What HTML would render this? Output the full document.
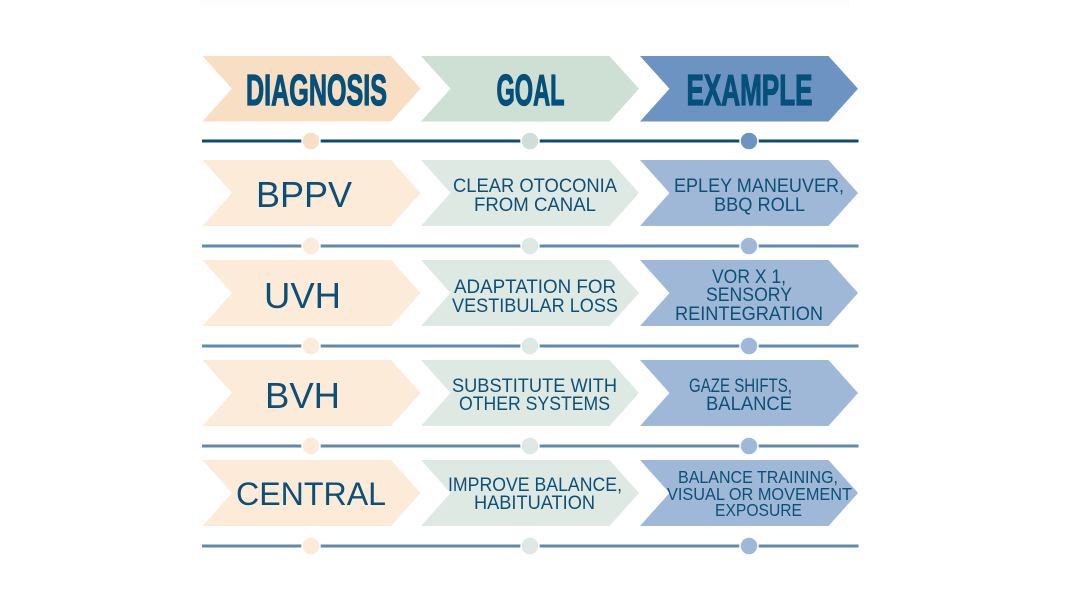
<!DOCTYPE html>
<html>
<head>
<meta charset="utf-8">
<style>
html,body{margin:0;padding:0;background:#fff;width:1070px;height:602px;overflow:hidden}
svg{display:block}
text{font-family:"Liberation Sans",sans-serif;fill:#0e4f77}
.h{font-size:44px;font-weight:bold;fill:#04507a;stroke:#04507a;stroke-width:1.3}
.b{font-size:36px}
.s{font-size:19px}
.x{font-size:17.5px}
</style>
</head>
<body>
<svg width="1070" height="602" viewBox="0 0 1070 602" xmlns="http://www.w3.org/2000/svg">
<defs>
<linearGradient id="tg" x1="0" y1="0" x2="0" y2="1"><stop offset="0" stop-color="#fbfbfb"/><stop offset="1" stop-color="#fff"/></linearGradient>
</defs>
<rect x="200" y="0" width="650" height="9" fill="url(#tg)"/>

<!-- Header chevrons -->
<polygon points="202.5,56 391,56 420.5,88.7 391,121.5 202.5,121.5 232,88.7" fill="#f8dec2"/>
<polygon points="421,56 609.5,56 639,88.7 609.5,121.5 421,121.5 450.5,88.7" fill="#cedfd3"/>
<polygon points="640,56 828.5,56 858,88.7 828.5,121.5 640,121.5 669.5,88.7" fill="#6d93c3"/>
<text class="h" x="246" y="105" textLength="141" lengthAdjust="spacingAndGlyphs">DIAGNOSIS</text>
<text class="h" x="496.5" y="105" textLength="68" lengthAdjust="spacingAndGlyphs">GOAL</text>
<text class="h" x="686.5" y="105" textLength="126" lengthAdjust="spacingAndGlyphs">EXAMPLE</text>

<!-- Lines -->
<rect x="202" y="139.5" width="656.5" height="3" fill="#0e4a78"/>
<rect x="202" y="244.5" width="656.5" height="3" fill="#628ba7"/>
<rect x="202" y="344.5" width="656.5" height="3" fill="#628ba7"/>
<rect x="202" y="444.5" width="656.5" height="3" fill="#628ba7"/>
<rect x="202" y="544.5" width="656.5" height="3" fill="#628ba7"/>

<!-- Dots -->
<g stroke="#fff" stroke-width="1.5">
<circle cx="311" cy="141" r="9" fill="#f8dec2"/><circle cx="530" cy="141" r="9" fill="#cedfd3"/><circle cx="749" cy="141" r="9" fill="#6d93c3"/>
<circle cx="311" cy="246" r="9" fill="#fcebd9"/><circle cx="530" cy="246" r="9" fill="#dfe9e3"/><circle cx="749" cy="246" r="9" fill="#a0b8d8"/>
<circle cx="311" cy="346" r="9" fill="#fcebd9"/><circle cx="530" cy="346" r="9" fill="#dfe9e3"/><circle cx="749" cy="346" r="9" fill="#a0b8d8"/>
<circle cx="311" cy="446" r="9" fill="#fcebd9"/><circle cx="530" cy="446" r="9" fill="#dfe9e3"/><circle cx="749" cy="446" r="9" fill="#a0b8d8"/>
<circle cx="311" cy="546" r="9" fill="#fcebd9"/><circle cx="530" cy="546" r="9" fill="#dfe9e3"/><circle cx="749" cy="546" r="9" fill="#a0b8d8"/>
</g>

<!-- Row 1 -->
<polygon points="202.5,160 391,160 420.5,193 391,226 202.5,226 232,193" fill="#fcebd9"/>
<polygon points="421,160 609.5,160 639,193 609.5,226 421,226 450.5,193" fill="#dfe9e3"/>
<polygon points="640,160 828.5,160 858,193 828.5,226 640,226 669.5,193" fill="#a0b8d8"/>
<text class="b" x="256" y="207" textLength="96" lengthAdjust="spacingAndGlyphs">BPPV</text>
<text class="s" x="453" y="192" textLength="164" lengthAdjust="spacingAndGlyphs">CLEAR OTOCONIA</text>
<text class="s" x="474" y="211" textLength="122" lengthAdjust="spacingAndGlyphs">FROM CANAL</text>
<text class="s" x="674" y="192" textLength="170" lengthAdjust="spacingAndGlyphs">EPLEY MANEUVER,</text>
<text class="s" x="714" y="211" textLength="91" lengthAdjust="spacingAndGlyphs">BBQ ROLL</text>

<!-- Row 2 -->
<polygon points="202.5,260 391,260 420.5,293 391,326 202.5,326 232,293" fill="#fcebd9"/>
<polygon points="421,260 609.5,260 639,293 609.5,326 421,326 450.5,293" fill="#dfe9e3"/>
<polygon points="640,260 828.5,260 858,293 828.5,326 640,326 669.5,293" fill="#a0b8d8"/>
<text class="b" x="264" y="308" textLength="77" lengthAdjust="spacingAndGlyphs">UVH</text>
<text class="s" x="454" y="293" textLength="162" lengthAdjust="spacingAndGlyphs">ADAPTATION FOR</text>
<text class="s" x="452" y="312" textLength="166" lengthAdjust="spacingAndGlyphs">VESTIBULAR LOSS</text>
<text class="s" x="712" y="283" textLength="74" lengthAdjust="spacingAndGlyphs">VOR X 1,</text>
<text class="s" x="706" y="301" textLength="86" lengthAdjust="spacingAndGlyphs">SENSORY</text>
<text class="s" x="675" y="320" textLength="148" lengthAdjust="spacingAndGlyphs">REINTEGRATION</text>

<!-- Row 3 -->
<polygon points="202.5,360 391,360 420.5,393 391,426 202.5,426 232,393" fill="#fcebd9"/>
<polygon points="421,360 609.5,360 639,393 609.5,426 421,426 450.5,393" fill="#dfe9e3"/>
<polygon points="640,360 828.5,360 858,393 828.5,426 640,426 669.5,393" fill="#a0b8d8"/>
<text class="b" x="265" y="408" textLength="75" lengthAdjust="spacingAndGlyphs">BVH</text>
<text class="s" x="452" y="392" textLength="165" lengthAdjust="spacingAndGlyphs">SUBSTITUTE WITH</text>
<text class="s" x="459" y="410" textLength="151" lengthAdjust="spacingAndGlyphs">OTHER SYSTEMS</text>
<text class="s" x="689" y="392" textLength="103" lengthAdjust="spacingAndGlyphs">GAZE SHIFTS,</text>
<text class="s" x="706" y="410" textLength="86" lengthAdjust="spacingAndGlyphs">BALANCE</text>

<!-- Row 4 -->
<polygon points="202.5,460 391,460 420.5,493 391,526 202.5,526 232,493" fill="#fcebd9"/>
<polygon points="421,460 609.5,460 639,493 609.5,526 421,526 450.5,493" fill="#dfe9e3"/>
<polygon points="640,460 828.5,460 858,493 828.5,526 640,526 669.5,493" fill="#a0b8d8"/>
<text x="236" y="505" font-size="32" textLength="150" lengthAdjust="spacingAndGlyphs">CENTRAL</text>
<text class="s" x="448" y="491" textLength="174" lengthAdjust="spacingAndGlyphs">IMPROVE BALANCE,</text>
<text class="s" x="474" y="509" textLength="121" lengthAdjust="spacingAndGlyphs">HABITUATION</text>
<text class="x" x="678" y="483" textLength="160" lengthAdjust="spacingAndGlyphs">BALANCE TRAINING,</text>
<text class="x" x="667" y="500" textLength="185" lengthAdjust="spacingAndGlyphs">VISUAL OR MOVEMENT</text>
<text class="x" x="715" y="516" textLength="87" lengthAdjust="spacingAndGlyphs">EXPOSURE</text>
</svg>
</body>
</html>
